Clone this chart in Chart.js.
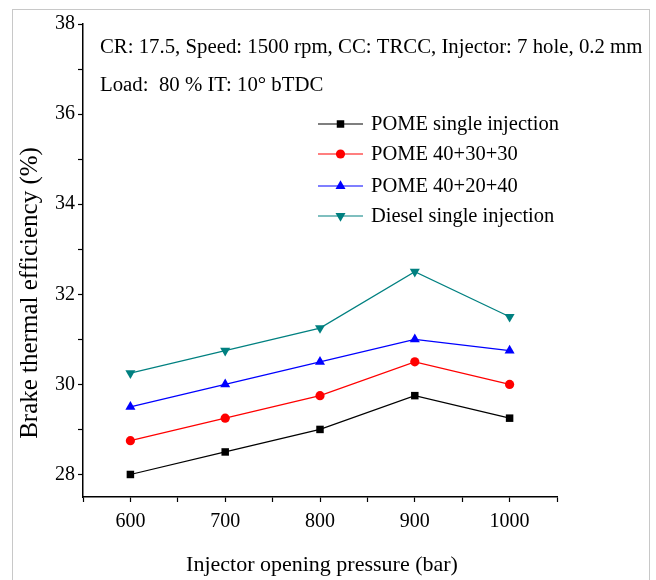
<!DOCTYPE html>
<html>
<head>
<meta charset="utf-8">
<script src="https://cdn.jsdelivr.net/npm/chart.js@4/dist/chart.umd.min.js"></script>
<style>
  html, body { margin: 0; padding: 0; background: #fff; }
  #wrap { width: 656px; height: 580px; position: relative; }
</style>
</head>
<body>
<div id="wrap"><canvas id="chart" width="656" height="580"></canvas></div>
<script>
// Brake thermal efficiency vs injector opening pressure
const pressures = [600, 700, 800, 900, 1000];
const pomeSingle = [28.0, 28.5, 29.0, 29.75, 29.25];
const pome403030 = [28.75, 29.25, 29.75, 30.5, 30.0];
const pome402040 = [29.5, 30.0, 30.5, 31.0, 30.75];
const dieselSingle = [30.25, 30.75, 31.25, 32.5, 31.5];
const seriesNames = ['POME single injection', 'POME 40+30+30', 'POME 40+20+40', 'Diesel single injection'];
const xTickValues = [550, 600, 650, 700, 750, 800, 850, 900, 950, 1000, 1050];
const xTickLabels = ['', '600', '', '700', '', '800', '', '900', '', '1000', ''];
const yTickValues = [28, 29, 30, 31, 32, 33, 34, 35, 36, 37, 38];
const yTickLabels = ['28', '', '30', '', '32', '', '34', '', '36', '', '38'];
const noteLines = ['CR: 17.5, Speed: 1500 rpm, CC: TRCC, Injector: 7 hole, 0.2 mm', 'Load:  80 % IT: 10\u00B0 bTDC'];
const xTitle = 'Injector opening pressure (bar)';
const yTitle = 'Brake thermal efficiency (%)';

const SERIF = '"Liberation Serif", "DejaVu Serif", serif';

function series(label, values, color, style, radius, rotation) {
    return {
        label,
        data: pressures.map((p, i) => ({ x: p, y: values[i] })),
        borderColor: color,
        backgroundColor: color,
        borderWidth: 1.2,
        pointStyle: style,
        pointRadius: radius,
        pointRotation: rotation || 0,
        pointBorderWidth: 0,
        tension: 0
    };
}

const datasets = [
    series(seriesNames[0], pomeSingle, '#000000', 'rect', 5.3),
    series(seriesNames[1], pome403030, '#ff0000', 'circle', 4.6),
    series(seriesNames[2], pome402040, '#0000ff', 'triangle', 5.8),
    series(seriesNames[3], dieselSingle, '#008080', 'triangle', 5.8, 180)
];

// notes, legend, axis titles and frame drawn on top
const overlay = {
    id: 'overlay',
    afterDraw(chart) {
        const ctx = chart.ctx;
        ctx.save();
        ctx.fillStyle = '#000';
        ctx.font = '20.8px ' + SERIF;
        ctx.textBaseline = 'middle';
        ctx.textAlign = 'left';
        ctx.fillText(noteLines[0], 100, 48);
        ctx.fillText(noteLines[1], 100, 86);

        const ys = [124, 154, 186, 216];
        chart.data.datasets.forEach((ds, i) => {
            const y = ys[i];
            ctx.strokeStyle = ds.borderColor;
            ctx.lineWidth = 1.2;
            ctx.beginPath();
            ctx.moveTo(318, y);
            ctx.lineTo(363, y);
            ctx.stroke();
            ctx.fillStyle = ds.backgroundColor;
            Chart.helpers.drawPoint(ctx, { pointStyle: ds.pointStyle, radius: ds.pointRadius, rotation: ds.pointRotation, borderWidth: 0 }, 340.5, y);
            ctx.fillStyle = '#000';
            ctx.font = '20.5px ' + SERIF;
            ctx.fillText(ds.label, 371, y + 1);
        });

        ctx.textAlign = 'center';
        ctx.font = '22px ' + SERIF;
        ctx.fillText(xTitle, 322, 565);
        ctx.save();
        ctx.translate(30, 293);
        ctx.rotate(-Math.PI / 2);
        ctx.font = '25px ' + SERIF;
        ctx.fillText(yTitle, 0, 0);
        ctx.restore();

        ctx.strokeStyle = '#c8c8c8';
        ctx.lineWidth = 1;
        ctx.strokeRect(12.5, 9.5, 637, 600);
        ctx.restore();
    }
};

new Chart(document.getElementById('chart'), {
    type: 'line',
    data: { datasets },
    options: {
        responsive: false,
        animation: false,
        layout: { padding: { top: 24, right: 99, left: 0, bottom: 0 } },
        plugins: { legend: { display: false }, tooltip: { enabled: false } },
        scales: {
            x: {
                type: 'linear',
                min: 550,
                max: 1050,
                afterFit: s => { s.height = 83; },
                afterBuildTicks: s => { s.ticks = xTickValues.map(v => ({ value: v })); },
                border: { display: true, color: '#000', width: 1.5 },
                grid: { drawOnChartArea: false, tickLength: 5, tickColor: '#000', tickWidth: 1.2 },
                ticks: {
                    autoSkip: false,
                    maxRotation: 0,
                    padding: 8,
                    color: '#000',
                    font: { family: SERIF, size: 20 },
                    callback: (v, i) => xTickLabels[i]
                }
            },
            y: {
                min: 27.5,
                max: 38,
                afterFit: s => { s.width = 83; },
                afterBuildTicks: s => { s.ticks = yTickValues.map(v => ({ value: v })); },
                border: { display: true, color: '#000', width: 1.5 },
                grid: { drawOnChartArea: false, tickLength: 5, tickColor: '#000', tickWidth: 1.2 },
                ticks: {
                    autoSkip: false,
                    padding: 3,
                    color: '#000',
                    font: { family: SERIF, size: 20 },
                    callback: (v, i) => yTickLabels[i]
                }
            }
        }
    },
    plugins: [overlay]
});
</script>
</body>
</html>
